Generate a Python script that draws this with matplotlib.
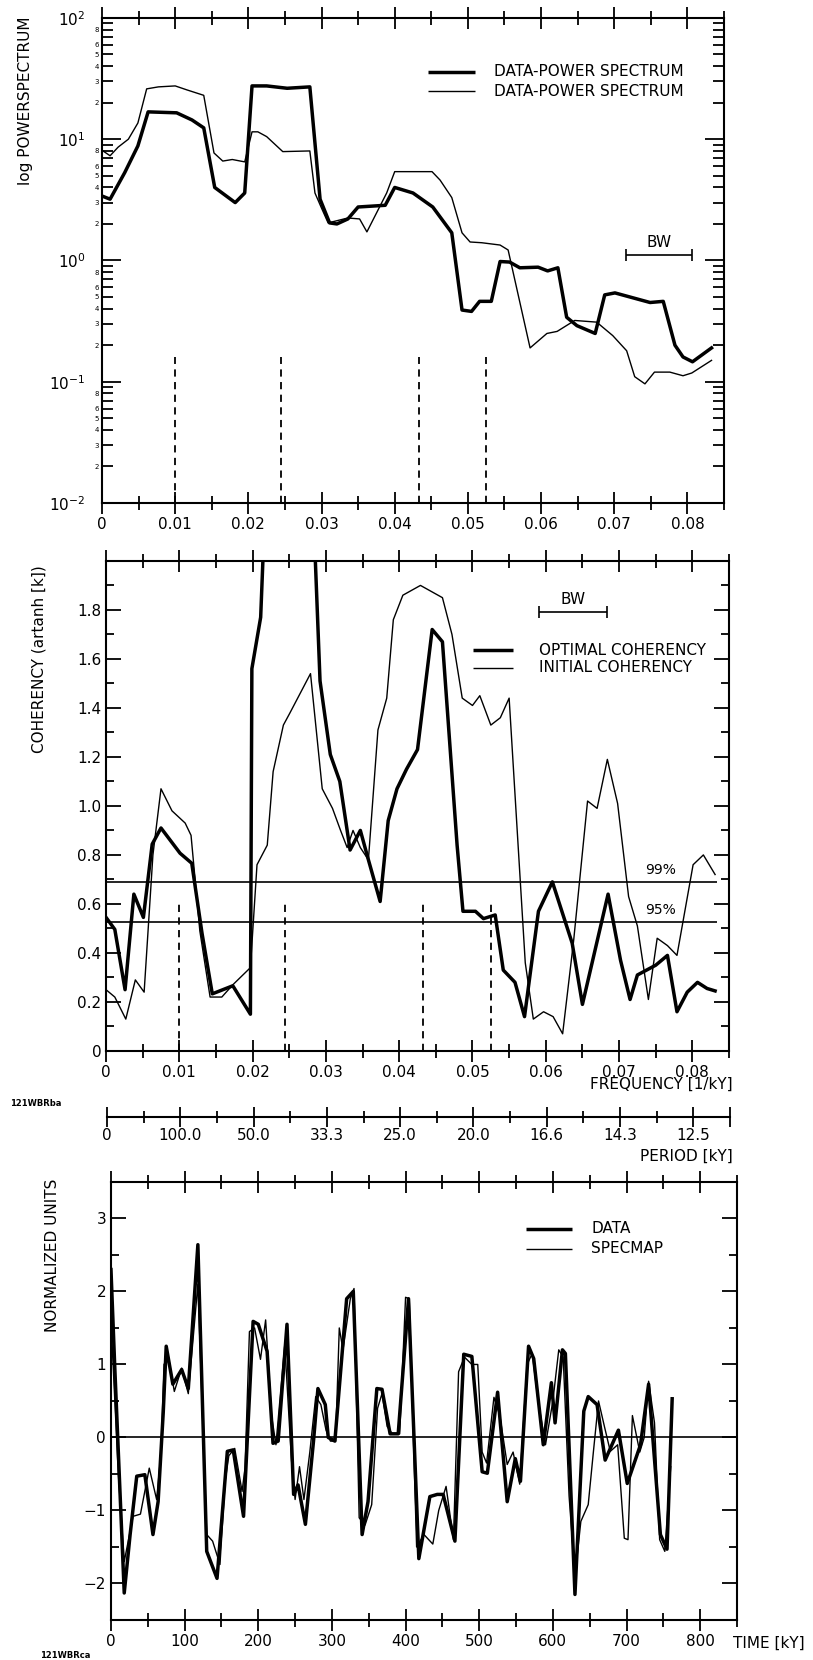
import numpy as np
import matplotlib
matplotlib.use('Agg')
import matplotlib.pyplot as plt
from matplotlib import font_manager
from matplotlib.ticker import (MultipleLocator, FixedLocator, LogLocator,
                               FuncFormatter)

installed = {f.name for f in font_manager.fontManager.ttflist}
face = 'Liberation Sans Narrow' if 'Liberation Sans Narrow' in installed else 'DejaVu Sans'
plt.rcParams['font.family'] = [face, 'DejaVu Sans']
plt.rcParams['font.size'] = 11

# --- power spectra (frequency in 1/kY) ---
psd_data_freq = [0.0000, 0.0011, 0.0031, 0.0049, 0.0063, 0.0102, 0.0123, 0.0139, 0.0154,
                 0.0182, 0.0195, 0.0205, 0.0225, 0.0253, 0.0284, 0.0298, 0.0311, 0.0321,
                 0.0336, 0.0350, 0.0387, 0.0400, 0.0425, 0.0452, 0.0478, 0.0492, 0.0505,
                 0.0516, 0.0532, 0.0544, 0.0557, 0.0571, 0.0596, 0.0609, 0.0623, 0.0635,
                 0.0649, 0.0674, 0.0687, 0.0701, 0.0749, 0.0767, 0.0783, 0.0794, 0.0807,
                 0.0833]
psd_data = [3.4, 3.2, 5.3, 8.8, 16.8, 16.5, 14.4, 12.4, 4.0,
            3.0, 3.6, 27.5, 27.5, 26.3, 27.0, 3.2, 2.04, 2.0,
            2.2, 2.76, 2.85, 4.0, 3.6, 2.76, 1.69, 0.39, 0.38,
            0.46, 0.46, 0.98, 0.97, 0.87, 0.88, 0.82, 0.87, 0.34,
            0.29, 0.25, 0.52, 0.54, 0.45, 0.46, 0.20, 0.16, 0.146,
            0.19]
psd_ref_freq = [0.0000, 0.0011, 0.0022, 0.0036, 0.0049, 0.0061, 0.0077, 0.0100, 0.0116,
                0.0139, 0.0153, 0.0165, 0.0178, 0.0195, 0.0205, 0.0213, 0.0225, 0.0247,
                0.0284, 0.0291, 0.0300, 0.0309, 0.0336, 0.0352, 0.0362, 0.0389, 0.0400,
                0.0434, 0.0451, 0.0462, 0.0478, 0.0492, 0.0503, 0.0519, 0.0544, 0.0555,
                0.0585, 0.0608, 0.0622, 0.0646, 0.0676, 0.0698, 0.0717, 0.0728, 0.0742,
                0.0755, 0.0776, 0.0794, 0.0806, 0.0833]
psd_ref = [8.1, 7.3, 8.6, 10.0, 13.6, 26.0, 27.0, 27.5, 25.5,
           23.0, 7.7, 6.6, 6.8, 6.5, 11.5, 11.5, 10.5, 7.9,
           8.0, 3.6, 2.7, 2.04, 2.24, 2.2, 1.72, 3.6, 5.4,
           5.4, 5.4, 4.6, 3.3, 1.69, 1.42, 1.40, 1.34, 1.22,
           0.19, 0.25, 0.26, 0.32, 0.31, 0.24, 0.18, 0.11, 0.096,
           0.12, 0.12, 0.112, 0.118, 0.15]

# orbital frequencies (100, 41, 23, 19 kY)
orbital_freq = [0.0100, 0.0244, 0.0433, 0.0525]

# --- coherency ---
coh_opt_freq = [0.0000, 0.0012, 0.0026, 0.0038, 0.0051, 0.0063, 0.0075, 0.0101, 0.0117,
                0.0131, 0.0145, 0.0173, 0.0197, 0.0199, 0.0211, 0.0218, 0.0250, 0.0283,
                0.0292, 0.0306, 0.0319, 0.0333, 0.0347, 0.0358, 0.0374, 0.0385, 0.0397,
                0.0410, 0.0425, 0.0445, 0.0459, 0.0479, 0.0487, 0.0504, 0.0515, 0.0531,
                0.0542, 0.0558, 0.0571, 0.0590, 0.0609, 0.0636, 0.0650, 0.0685, 0.0702,
                0.0715, 0.0725, 0.0750, 0.0766, 0.0779, 0.0793, 0.0807, 0.0820, 0.0831]
coh_opt = [0.545, 0.496, 0.25, 0.64, 0.545, 0.844, 0.91, 0.807, 0.766,
           0.48, 0.233, 0.266, 0.15, 1.56, 1.77, 2.30, 2.40, 2.20,
           1.51, 1.21, 1.10, 0.82, 0.90, 0.78, 0.61, 0.94, 1.07,
           1.15, 1.23, 1.72, 1.67, 0.84, 0.57, 0.57, 0.54, 0.555,
           0.33, 0.28, 0.14, 0.57, 0.69, 0.44, 0.19, 0.64, 0.37,
           0.21, 0.31, 0.35, 0.39, 0.16, 0.24, 0.28, 0.255, 0.245]
coh_init_freq = [0.0000, 0.0012, 0.0027, 0.0040, 0.0052, 0.0064, 0.0075, 0.0090, 0.0108,
                 0.0116, 0.0128, 0.0142, 0.0158, 0.0173, 0.0197, 0.0206, 0.0220, 0.0228,
                 0.0242, 0.0251, 0.0279, 0.0295, 0.0309, 0.0320, 0.0329, 0.0337, 0.0347,
                 0.0358, 0.0371, 0.0383, 0.0392, 0.0405, 0.0429, 0.0459, 0.0472, 0.0486,
                 0.0500, 0.0510, 0.0525, 0.0538, 0.0550, 0.0572, 0.0583, 0.0597, 0.0610,
                 0.0623, 0.0638, 0.0657, 0.0670, 0.0684, 0.0698, 0.0713, 0.0725, 0.0740,
                 0.0752, 0.0766, 0.0779, 0.0801, 0.0815, 0.0831]
coh_init = [0.25, 0.22, 0.13, 0.29, 0.24, 0.80, 1.07, 0.98, 0.93,
            0.88, 0.49, 0.22, 0.22, 0.27, 0.34, 0.76, 0.84, 1.14,
            1.33, 1.38, 1.54, 1.07, 0.99, 0.90, 0.83, 0.90, 0.83,
            0.78, 1.31, 1.44, 1.76, 1.86, 1.90, 1.85, 1.70, 1.44,
            1.41, 1.45, 1.33, 1.36, 1.44, 0.36, 0.13, 0.16, 0.14,
            0.07, 0.45, 1.02, 0.99, 1.19, 1.01, 0.63, 0.51, 0.21,
            0.46, 0.43, 0.39, 0.76, 0.80, 0.72]
conf_levels = [0.69, 0.525]
conf_names = ['99%', '95%']

# period scale below the frequency axis
period_freq = [0.0, 0.01, 0.02, 0.03, 0.04, 0.05, 0.06, 0.07, 0.08]
period_labels = ['0', '100.0', '50.0', '33.3', '25.0', '20.0', '16.6', '14.3', '12.5']

# --- time series (kY) ---
data_time = [0, 5, 18, 26, 35, 46, 57, 64, 71, 75, 84, 96, 105, 118, 130, 144, 158, 166,
             180, 193, 200, 212, 220, 227, 239, 248, 254, 264, 275, 281, 291, 295, 304,
             320, 329, 341, 349, 361, 368, 379, 390, 404, 418, 433, 443, 451, 467, 479,
             490, 504, 511, 525, 538, 549, 556, 567, 574, 587, 598, 603, 613, 617, 630,
             642, 648, 660, 671, 689, 701, 719, 730, 746, 755, 762]
data_val = [2.3, 1.0, -2.13, -1.33, -0.53, -0.51, -1.33, -0.88, 0.35, 1.25, 0.73, 0.93,
            0.67, 2.64, -1.56, -1.93, -0.19, -0.17, -1.08, 1.59, 1.55, 1.18, -0.08, -0.05,
            1.55, -0.78, -0.65, -1.19, -0.05, 0.67, 0.45, 0.0, -0.05, 1.9, 2.0, -1.33,
            -0.88, 0.67, 0.66, 0.05, 0.05, 1.9, -1.66, -0.81, -0.78, -0.78, -1.42, 1.14,
            1.11, -0.47, -0.49, 0.62, -0.88, -0.29, -0.6, 1.25, 1.08, -0.1, 0.75, 0.2,
            1.2, 1.15, -2.15, 0.36, 0.56, 0.45, -0.31, 0.1, -0.63, -0.1, 0.73, -1.33,
            -1.53, 0.53]
specmap_time = [0, 10, 18, 30, 40, 52, 62, 68, 72, 78, 86, 96, 105, 118, 130, 138, 148,
                155, 160, 168, 178, 182, 188, 195, 203, 210, 218, 224, 236, 245, 250, 256,
                262, 270, 278, 285, 292, 298, 305, 310, 315, 325, 330, 337, 345, 354, 362,
                368, 375, 382, 392, 400, 405, 415, 425, 437, 445, 455, 465, 472, 480, 490,
                498, 504, 510, 520, 528, 538, 546, 555, 565, 572, 580, 590, 600, 608, 614,
                622, 630, 638, 648, 655, 662, 670, 678, 688, 697, 702, 708, 718, 724, 730,
                738, 745, 752, 760]
specmap_val = [1.6, -0.5, -1.7, -1.08, -1.05, -0.42, -0.85, -0.2, 1.0, 1.1, 0.63, 0.95,
               0.6, 2.1, -1.33, -1.42, -1.74, -0.6, -0.25, -0.15, -0.74, -0.42, 1.45, 1.5,
               1.07, 1.61, 0.3, -0.1, 1.27, -0.3, -0.85, -0.4, -0.85, -0.2, 0.56, 0.45, 0.1,
               -0.05, -0.05, 1.5, 1.2, 1.9, 2.04, -1.1, -1.2, -0.92, 0.4, 0.6, 0.15, 0.05,
               0.05, 1.92, 1.9, -1.5, -1.33, -1.46, -1.0, -0.67, -1.4, 0.9, 1.1, 1.0, 1.0,
               -0.2, -0.35, 0.55, 0.3, -0.37, -0.2, -0.64, 1.0, 1.15, 0.5, -0.1, 0.5, 1.2,
               1.1, -0.8, -1.9, -1.15, -0.92, -0.2, 0.5, 0.15, -0.19, -0.1, -1.38, -1.4, 0.3,
               -0.2, 0.0, 0.77, 0.2, -1.4, -1.56, -0.4]

THICK, THIN, SPINE = 2.5, 1.0, 1.5


def style_axes(ax):
    for s in ax.spines.values():
        s.set_linewidth(SPINE)
    # ticks on all four sides
    ax.tick_params(which='both', top=True, right=True, width=1.3)
    ax.tick_params(axis='x', which='major', direction='inout', length=16, labelsize=11, pad=2)
    ax.tick_params(axis='x', which='minor', direction='inout', length=10)
    ax.tick_params(axis='y', which='major', direction='in', length=11, labelsize=11)
    ax.tick_params(axis='y', which='minor', direction='in', length=6)


def freq_label(v, pos):
    return '0' if abs(v) < 1e-9 else f'{v:.2f}'


def log_digit(v, pos):
    m = int(round(v / 10 ** np.floor(np.log10(v))))
    return str(m) if m in (2, 3, 4, 5, 6, 8) else ''


def legend_keys(ax, x0, x1, xt, ys, widths, labels):
    for y, w, lab in zip(ys, widths, labels):
        ax.plot([x0, x1], [y, y], color='k', lw=w, transform=ax.transAxes,
                solid_capstyle='butt', clip_on=False)
        ax.text(xt, y, lab, transform=ax.transAxes, va='center', ha='left', fontsize=11)


fig = plt.figure(figsize=(8.13, 16.6), dpi=100)

# ---------------- power spectrum ----------------
ax1 = fig.add_axes([0.1255, 0.697, 0.765, 0.2922])
ax1.set_yscale('log')
ax1.plot(psd_data_freq, psd_data, color='k', lw=THICK)
ax1.plot(psd_ref_freq, psd_ref, color='k', lw=THIN)
ax1.vlines(orbital_freq, 0.01, 0.16, colors='k', linestyles=(0, (4, 3)), lw=1.3)
ax1.errorbar(0.0761, 1.1, xerr=0.0045, color='k', lw=1.2, capsize=4, capthick=1.2)
ax1.text(0.0761, 1.22, 'BW', ha='center', va='bottom', fontsize=11)
ax1.set_xlim(0, 0.085)
ax1.set_ylim(0.01, 100)
ax1.xaxis.set_major_locator(MultipleLocator(0.01))
ax1.xaxis.set_minor_locator(MultipleLocator(0.005))
ax1.xaxis.set_major_formatter(FuncFormatter(freq_label))
ax1.yaxis.set_major_locator(LogLocator(base=10))
ax1.yaxis.set_minor_locator(LogLocator(base=10, subs=np.arange(2, 10)))
ax1.yaxis.set_minor_formatter(FuncFormatter(log_digit))
style_axes(ax1)
ax1.tick_params(axis='y', which='major', length=14, pad=12)
ax1.tick_params(axis='y', which='minor', length=8, labelsize=5, pad=2)
ax1.set_ylabel('log POWERSPECTRUM', fontsize=11)
ax1.yaxis.set_label_coords(-0.111, 0.83)
legend_keys(ax1, 0.524, 0.600, 0.630, [0.889, 0.849], [THICK, THIN],
            ['DATA-POWER SPECTRUM', 'DATA-POWER SPECTRUM'])

# ---------------- coherency ----------------
ax2 = fig.add_axes([0.1304, 0.3669, 0.7663, 0.2952])
ax2.plot(coh_opt_freq, coh_opt, color='k', lw=THICK)
ax2.plot(coh_init_freq, coh_init, color='k', lw=THIN)
ax2.hlines(conf_levels, 0, 0.0833, colors='k', lw=1.2)
for lev, name in zip(conf_levels, conf_names):
    ax2.text(0.0735, lev + 0.02, name, ha='left', va='bottom', fontsize=10)
ax2.vlines(orbital_freq, 0, 0.61, colors='k', linestyles=(0, (4, 3)), lw=1.3)
ax2.errorbar(0.0637, 1.79, xerr=0.0046, color='k', lw=1.2, capsize=4, capthick=1.2)
ax2.text(0.0637, 1.81, 'BW', ha='center', va='bottom', fontsize=11)
ax2.set_xlim(0, 0.085)
ax2.set_ylim(0, 2.0)
ax2.xaxis.set_major_locator(MultipleLocator(0.01))
ax2.xaxis.set_minor_locator(MultipleLocator(0.005))
ax2.xaxis.set_major_formatter(FuncFormatter(freq_label))
ax2.yaxis.set_major_locator(FixedLocator(np.arange(0, 1.81, 0.2)))
ax2.yaxis.set_minor_locator(MultipleLocator(0.1))
ax2.yaxis.set_major_formatter(FuncFormatter(lambda v, p: '0' if abs(v) < 1e-9 else f'{v:.1f}'))
style_axes(ax2)
ax2.set_ylabel('COHERENCY (artanh [k])', fontsize=11)
ax2.yaxis.set_label_coords(-0.095, 0.80)
ax2.text(1.005, -0.069, 'FREQUENCY [1/kY]', transform=ax2.transAxes,
         ha='right', va='center', fontsize=11)
legend_keys(ax2, 0.589, 0.653, 0.695, [0.818, 0.782], [THICK, THIN],
            ['OPTIMAL COHERENCY', 'INITIAL COHERENCY'])

# period scale
axp = fig.add_axes([0.1316, 0.3271, 0.7663, 0.0005])
axp.set_xlim(0, 0.085)
for s in ('top', 'left', 'right'):
    axp.spines[s].set_visible(False)
axp.spines['bottom'].set_linewidth(SPINE)
axp.set_yticks([])
axp.set_xticks(period_freq + [0.085])
axp.set_xticklabels(period_labels + [''])
axp.xaxis.set_minor_locator(MultipleLocator(0.005))
axp.tick_params(which='major', direction='inout', length=14, width=1.3, labelsize=11, pad=1)
axp.tick_params(which='minor', direction='inout', length=9, width=1.3)
fig.text(733 / 813, 1 - 1156 / 1660, 'PERIOD [kY]', ha='right', va='center', fontsize=11)
fig.text(10 / 813, 1 - 1103 / 1660, '121WBRba', ha='left', va='center',
         fontsize=6, fontweight='bold')

# ---------------- time series ----------------
ax3 = fig.add_axes([0.1365, 0.0241, 0.770, 0.2639])
ax3.axhline(0, color='k', lw=1.2)
ax3.plot(data_time, data_val, color='k', lw=THICK)
ax3.plot(specmap_time, specmap_val, color='k', lw=THIN)
ax3.set_xlim(0, 850)
ax3.set_ylim(-2.5, 3.5)
ax3.xaxis.set_major_locator(MultipleLocator(100))
ax3.xaxis.set_minor_locator(MultipleLocator(50))
ax3.yaxis.set_major_locator(MultipleLocator(1))
ax3.yaxis.set_minor_locator(MultipleLocator(0.5))
style_axes(ax3)
ax3.set_ylabel('NORMALIZED UNITS', fontsize=11)
ax3.yaxis.set_label_coords(-0.081, 0.833)
legend_keys(ax3, 0.663, 0.736, 0.767, [0.893, 0.847], [THICK, THIN],
            ['DATA', 'SPECMAP'])
fig.text(733 / 813, 1 - 1643 / 1660, 'TIME [kY]', ha='left', va='center', fontsize=11)
fig.text(40 / 813, 1 - 1655 / 1660, '121WBRca', ha='left', va='center',
         fontsize=6, fontweight='bold')

fig.savefig('out.png', dpi=100)
